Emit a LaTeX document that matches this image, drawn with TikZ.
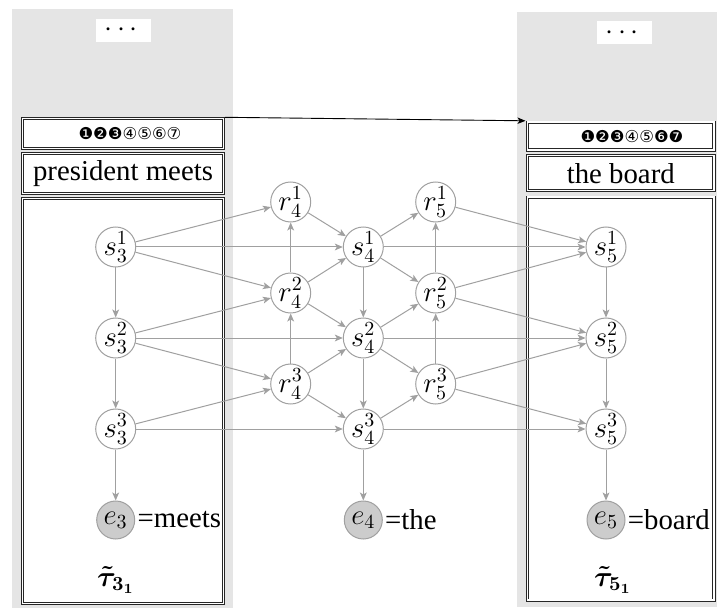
\documentclass[tikz,border=0pt]{standalone}
\usepackage{amsmath}
\usepackage{bm}
\usepackage[no-math]{fontspec}
\setmainfont{Liberation Serif}
\newfontfamily\circfont{DejaVu Sans}
\usetikzlibrary{arrows.meta}

\definecolor{panelgray}{RGB}{229,229,229}
\definecolor{edgegray}{RGB}{160,160,160}
\definecolor{evgray}{RGB}{204,204,204}

\tikzset{
  every node/.style={font=\fontsize{14.4}{17.28}\selectfont},
  panel/.style={fill=panelgray, draw=none},
  dotsbox/.style={fill=white, inner sep=0pt, minimum width=27.5pt, minimum height=11.5pt},
  frame/.style={draw=black!85, fill=white, line width=0.4pt, double=white, double distance=0.8pt,
                inner sep=0pt, rectangle},
  circrow/.style={font=\circfont\fontsize{8.2}{9}\selectfont, inner sep=0pt},
  snode/.style={circle, draw=edgegray, line width=0.5pt, minimum size=20pt, inner sep=0pt},
  enode/.style={circle, draw=edgegray, fill=evgray, line width=0.5pt, minimum size=19pt, inner sep=0pt},
  edge/.style={draw=edgegray, line width=0.5pt, -{Stealth[length=4pt, width=3.4pt, inset=1pt]}},
  link/.style={draw=black, line width=0.45pt, -{Stealth[length=4pt, width=3.2pt, inset=1pt]}},
  eqlabel/.style={anchor=west, inner sep=1pt},
}

\begin{document}
\begin{tikzpicture}[x=0.5pt, y=-0.5pt]
  \useasboundingbox (0,0) rectangle (717,609);

  % grey panels
  \path[panel] (12,9) rectangle (233,608);
  \path[panel] (517,12) rectangle (717,607);

  % elided content at the top of each panel
  \node[dotsbox] (ldots) at (123.5,30.5) {$\cdots$};
  \node[dotsbox] (rdots) at (624.5,33) {$\cdots$};

  % left frame: marker row, words, body
  \node[frame, minimum width=100.5pt, minimum height=15pt] (lhead) at (123,133.5) {};
  \node[circrow] (lmarks) at (130,134) {❶❷❸④⑤⑥⑦};
  \node[frame, minimum width=100.5pt, minimum height=20pt] (lwords) at (123,173.5) {president meets};
  \node[frame, minimum width=100.5pt, minimum height=202.5pt] (lbody) at (123,401) {};

  % right frame: marker row, words, body
  \node[frame, minimum width=93.25pt, minimum height=13.9pt] (rhead) at (620.75,136.2) {};
  \node[circrow] (rmarks) at (632,136.5) {❶❷❸④⑤❻❼};
  \node[frame, minimum width=93.25pt, minimum height=17.55pt] (rwords) at (620.75,173.15) {the board};
  \node[frame, minimum width=93.25pt, minimum height=201.4pt] (rbody) at (620.75,398.7) {};

  % link between the two frames
  \coordinate (linkstart) at (225,117.3);
  \coordinate (linkend) at (525.5,120.8);
  \draw[link] (linkstart) -- (linkend);

  % state nodes
  \node[snode] (s31) at (115.7,247) {$s^1_3$};
  \node[snode] (s32) at (115.7,338) {$s^2_3$};
  \node[snode] (s33) at (115.7,429) {$s^3_3$};
  \node[enode] (e3)  at (115.7,520) {$e_3$};

  \node[snode] (r41) at (290.7,202) {$r^1_4$};
  \node[snode] (r42) at (290.7,293) {$r^2_4$};
  \node[snode] (r43) at (290.7,384) {$r^3_4$};

  \node[snode] (s41) at (363.3,247) {$s^1_4$};
  \node[snode] (s42) at (363.3,338) {$s^2_4$};
  \node[snode] (s43) at (363.3,429) {$s^3_4$};
  \node[enode] (e4)  at (363.3,520) {$e_4$};

  \node[snode] (r51) at (435.7,202) {$r^1_5$};
  \node[snode] (r52) at (435.7,293) {$r^2_5$};
  \node[snode] (r53) at (435.7,384) {$r^3_5$};

  \node[snode] (s51) at (606,247) {$s^1_5$};
  \node[snode] (s52) at (606,338) {$s^2_5$};
  \node[snode] (s53) at (606,429) {$s^3_5$};
  \node[enode] (e5)  at (606,520) {$e_5$};

  % emitted words
  \node[eqlabel] (w3) at (e3.east) {=meets};
  \node[eqlabel] (w4) at (e4.east) {=the};
  \node[eqlabel] (w5) at (e5.east) {=board};

  % frame labels
  \node (t3) at (115.8,580) {$\bm{\tilde{\tau}_{3_1}}$};
  \node (t5) at (613,580) {$\bm{\tilde{\tau}_{5_1}}$};

  % transitions
  \foreach \a/\b in {
      s31/r41, s31/s41, s31/r42, s31/s32,
      s32/r42, s32/s42, s32/r43, s32/s33,
      s33/r43, s33/s43, s33/e3,
      r42/r41, r43/r42,
      r41/s41, r42/s41, r42/s42, r43/s42, r43/s43,
      s41/s42, s42/s43, s43/e4,
      s41/r51, s41/s51, s41/r52,
      s42/r52, s42/s52, s42/r53,
      s43/r53, s43/s53,
      r52/r51, r53/r52,
      r51/s51, r52/s51, r52/s52, r53/s52, r53/s53,
      s51/s52, s52/s53, s53/e5}
    \draw[edge] (\a) -- (\b);
\end{tikzpicture}
\end{document}
